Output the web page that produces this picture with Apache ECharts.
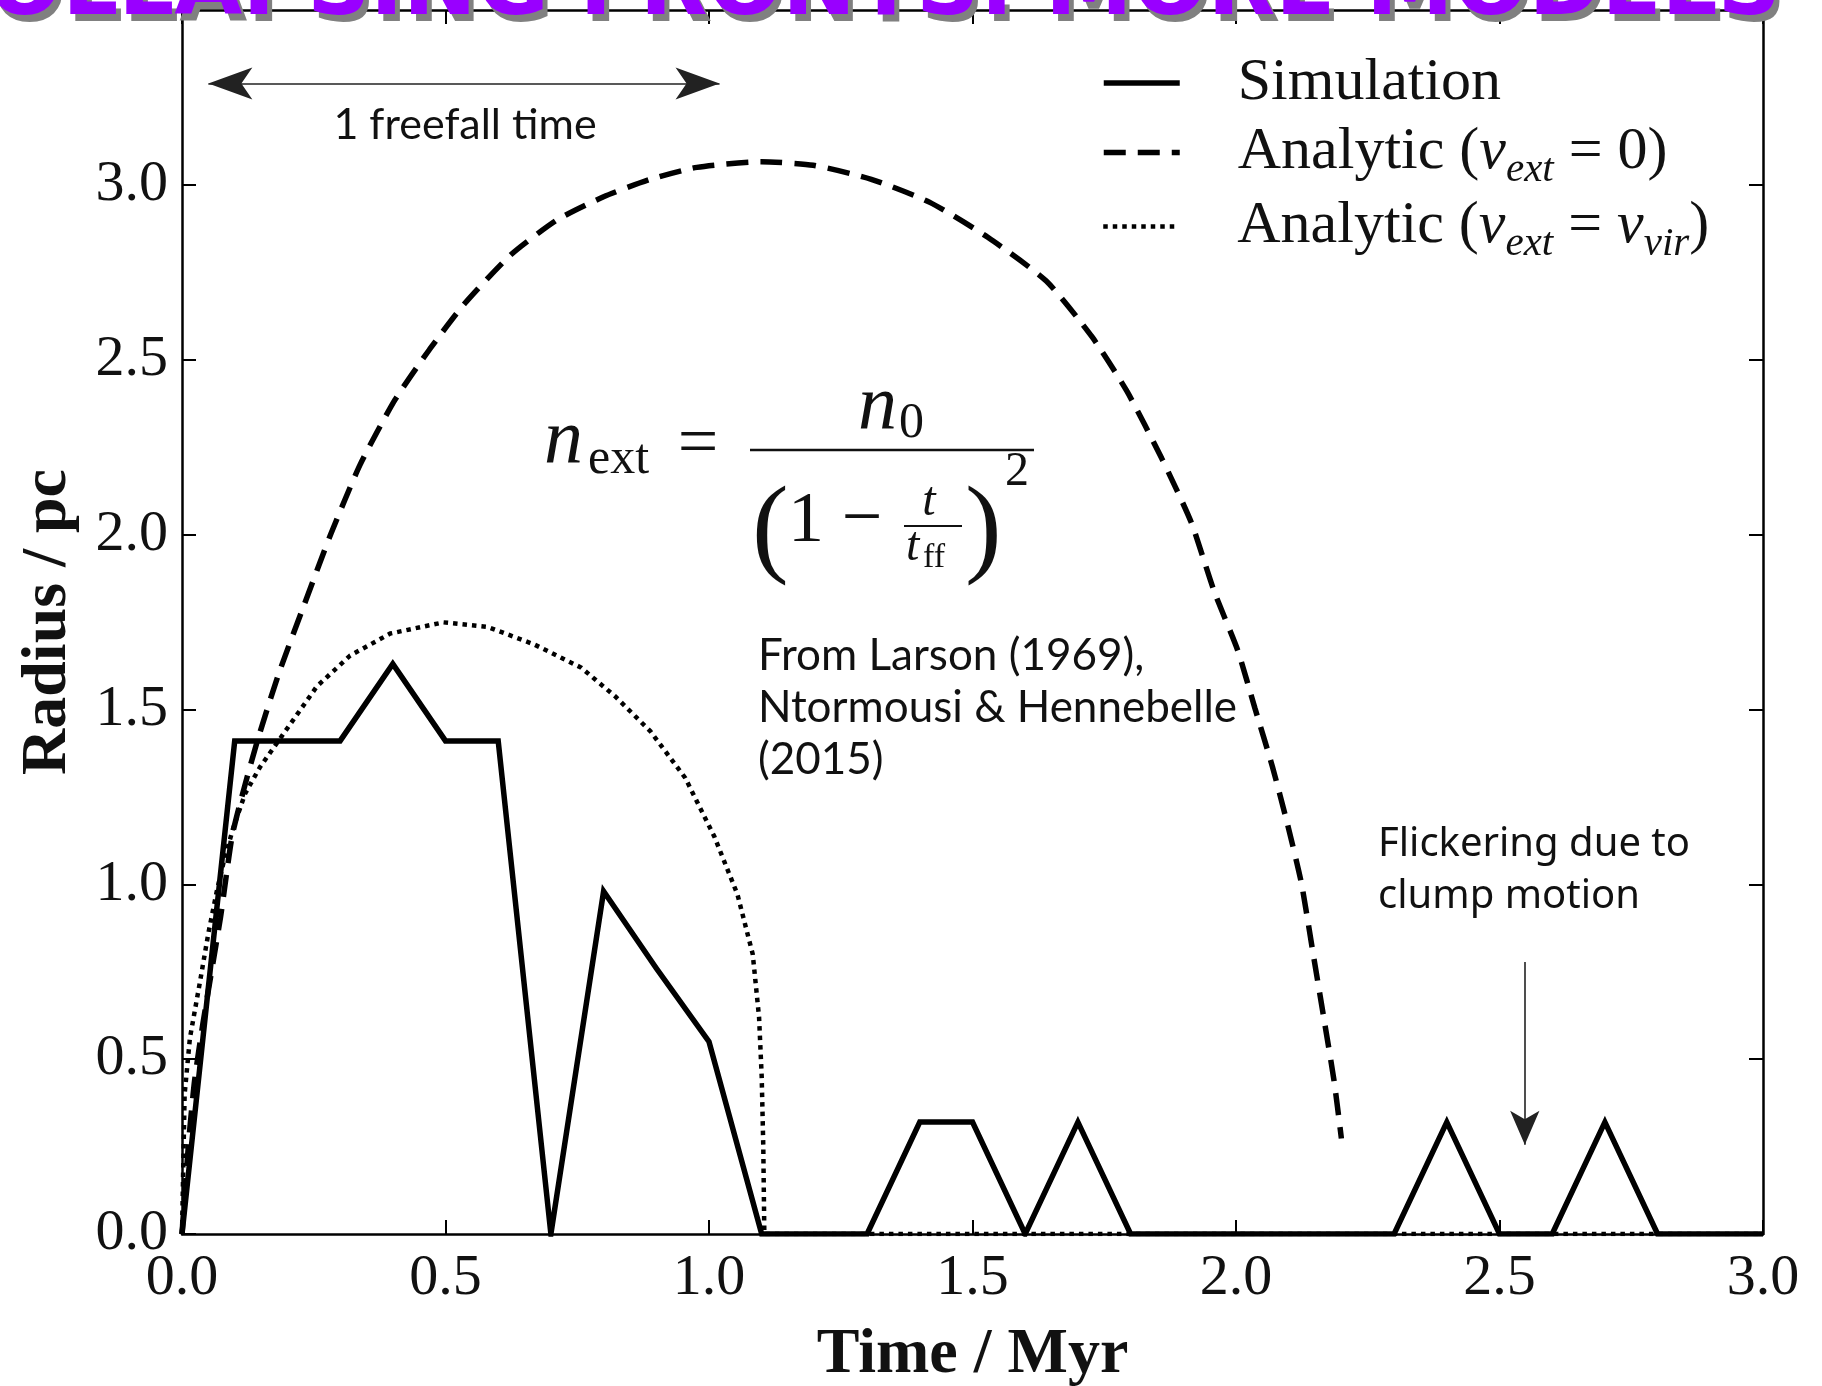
<!DOCTYPE html>
<html>
<head>
<meta charset="utf-8">
<script src="https://cdn.jsdelivr.net/npm/echarts@6/dist/echarts.min.js"></script>
<style>
  html, body { margin: 0; padding: 0; background: #ffffff; }
  #chart { width: 1822px; height: 1386px; }
</style>
</head>
<body>
<div id="chart"></div>
<script>
// Simulated front radius (pc), sampled every 0.1 Myr
const simTime   = [0, 0.1, 0.2, 0.3, 0.4, 0.5, 0.6, 0.7, 0.8, 0.9, 1.0, 1.1, 1.2, 1.3, 1.4, 1.5,
                   1.6, 1.7, 1.8, 1.9, 2.0, 2.1, 2.2, 2.3, 2.4, 2.5, 2.6, 2.7, 2.8, 2.9, 3.0];
const simRadius = [0, 1.41, 1.41, 1.41, 1.63, 1.41, 1.41, 0, 0.98, 0.76, 0.55, 0, 0, 0, 0.32, 0.32,
                   0, 0.32, 0, 0, 0, 0, 0, 0, 0.32, 0, 0, 0.32, 0, 0, 0];

// Analytic solution, static external medium (v_ext = 0)
const staticTime   = [0, 0.013, 0.024, 0.04, 0.073, 0.095, 0.117, 0.143, 0.183, 0.232, 0.282, 0.338,
                      0.404, 0.47, 0.536, 0.624, 0.712, 0.8, 0.889, 0.977, 1.099, 1.198, 1.308, 1.419,
                      1.529, 1.64, 1.727, 1.793, 1.859, 1.915, 1.959, 2.003, 2.036, 2.069, 2.098, 2.124,
                      2.146, 2.168, 2.186, 2.2];
const staticRadius = [0, 0.27, 0.44, 0.605, 0.905, 1.137, 1.27, 1.41, 1.6, 1.8, 2.0, 2.2,
                      2.385, 2.53, 2.66, 2.8, 2.9, 2.966, 3.016, 3.05, 3.066, 3.056, 3.016, 2.95,
                      2.85, 2.725, 2.565, 2.41, 2.218, 2.035, 1.836, 1.67, 1.503, 1.337, 1.17, 1.004,
                      0.805, 0.605, 0.439, 0.273];

// Analytic solution, infalling external medium (v_ext = v_vir)
const infallTime   = [0, 0.005, 0.015, 0.034, 0.05, 0.066, 0.08, 0.097, 0.12, 0.148, 0.19, 0.256,
                      0.319, 0.395, 0.496, 0.58, 0.668, 0.757, 0.823, 0.889, 0.955, 1.01, 1.054,
                      1.083, 1.095, 1.1, 1.103, 1.105, 1.5, 2.0, 2.5, 3.0];
const infallRadius = [0, 0.40, 0.56, 0.72, 0.86, 0.98, 1.07, 1.16, 1.26, 1.335, 1.425, 1.566,
                      1.654, 1.717, 1.749, 1.736, 1.686, 1.62, 1.536, 1.437, 1.304, 1.137, 0.971,
                      0.80, 0.62, 0.45, 0.25, 0, 0, 0, 0, 0];

// Annotation arrows (data coordinates)
const freefallSpan   = [0.05, 1.02];
const freefallLevel  = 3.29;
const flickerArrowT  = 2.548;
const flickerArrowR  = [0.778, 0.255];

const seriesNames = ['Simulation', 'Analytic (v_ext = 0)', 'Analytic (v_ext = v_vir)'];
const legendRich = [
  '{gap|}{rm|Simulation}',
  '{gap|}{rm|Analytic (}{it|v}{sub|ext}{rm| = 0)}',
  '{gap|}{rm|Analytic (}{it|v}{sub|ext}{rm| = }{it|v}{sub|vir}{rm|)}'
];

const SERIF = '"Liberation Serif", "DejaVu Serif", serif';
const INK = '#111111';

const DASH = [22, 12];
const DOT = [4.5, 5];

function zip(a, b) { return a.map((v, i) => [v, b[i]]); }

const rich = {
  gap: { width: 53, lineHeight: 70 },
  rm:  { fontFamily: SERIF, fontSize: 60, color: INK, lineHeight: 70 },
  it:  { fontFamily: SERIF, fontSize: 60, fontStyle: 'italic', color: INK, lineHeight: 70 },
  sub: { fontFamily: SERIF, fontSize: 41, fontStyle: 'italic', color: INK, lineHeight: 30, padding: [36, 0, 0, 0] }
};

function legendRow(i, top, lineStyle) {
  return {
    show: true, left: 1101, top: top, padding: 0,
    itemWidth: 76, itemHeight: 20, selectedMode: false,
    data: [seriesNames[i]],
    formatter: () => legendRich[i],
    itemStyle: { opacity: 0 },
    lineStyle: Object.assign({ color: '#000' }, lineStyle),
    textStyle: { rich: rich }
  };
}

function txt(x, y, text, size, o) {
  o = o || {};
  return {
    type: 'text', x: x, y: y, z: 100, silent: true,
    style: {
      text: text,
      fontFamily: o.family || SERIF,
      fontSize: size,
      fontStyle: o.italic ? 'italic' : 'normal',
      fontWeight: o.weight || 'normal',
      fill: o.fill || INK,
      align: o.align || 'left',
      verticalAlign: o.valign || 'middle',
      lineHeight: o.lineHeight
    }
  };
}

function bar(x1, x2, y, h) {
  return { type: 'rect', z: 100, silent: true,
           shape: { x: x1, y: y - h / 2, width: x2 - x1, height: h },
           style: { fill: INK } };
}

const TITLE = 'COLLAPSING FRONTS: MORE MODELS';
const TITLE_FONT = '"DejaVu Sans", "Noto Sans", sans-serif';

const graphics = [
  // section heading, partly above the page edge
  txt(1786, 42, TITLE, 88, { family: TITLE_FONT, weight: 'bold', fill: '#808080', align: 'right', valign: 'bottom' }),
  txt(1781, 35, TITLE, 88, { family: TITLE_FONT, weight: 'bold', fill: '#9900ff', align: 'right', valign: 'bottom' }),

  // free-fall annotation
  txt(465, 125, '1 freefall time', 43, { family: 'Lato, "Open Sans", sans-serif', align: 'center' }),

  // density law
  txt(544, 442, 'n', 78, { italic: true }),
  txt(588, 460, 'ext', 50),
  txt(698, 446, '=', 72, { align: 'center' }),
  bar(750, 1034, 450, 2.5),
  txt(858, 408, 'n', 78, { italic: true }),
  txt(899, 424, '0', 50),
  txt(752, 533, '(', 110),
  txt(788, 522, '1', 72),
  txt(862, 521, '\u2212', 72, { align: 'center' }),
  txt(929, 502, 't', 48, { italic: true, align: 'center' }),
  bar(904, 962, 526, 2),
  txt(906, 547, 't', 48, { italic: true }),
  txt(923, 558, 'ff', 34),
  txt(965, 533, ')', 110),
  txt(1005, 472, '2', 48),

  // references
  txt(758, 708, 'From Larson (1969),\nNtormousi & Hennebelle\n(2015)', 44,
      { family: 'Lato, "Open Sans", sans-serif', lineHeight: 52 }),

  // flicker note
  txt(1378, 871, 'Flickering due to\nclump motion', 40,
      { family: '"Noto Sans", "Open Sans", sans-serif', lineHeight: 52 })
];

function axisBase() {
  return {
    type: 'value',
    axisLine: { show: true, onZero: false, lineStyle: { color: '#000', width: 2.5 } },
    axisTick: { show: true, inside: true, length: 14, lineStyle: { color: '#000', width: 2 } },
    splitLine: { show: false }
  };
}

const chart = echarts.init(document.getElementById('chart'), null, { renderer: 'canvas' });

chart.setOption({
  animation: false,
  backgroundColor: '#ffffff',
  grid: { left: 182, right: 59, top: 10, bottom: 152, containLabel: false, outerBoundsMode: 'none' },
  xAxis: [
    Object.assign(axisBase(), {
      position: 'bottom', min: 0, max: 3, interval: 0.5,
      axisLabel: { margin: 16, fontFamily: SERIF, fontSize: 58, color: INK,
                   formatter: v => v.toFixed(1) },
      name: 'Time / Myr', nameLocation: 'middle', nameGap: 89,
      nameTextStyle: { fontFamily: SERIF, fontWeight: 'bold', fontSize: 64, color: INK }
    }),
    Object.assign(axisBase(), {
      position: 'top', min: 0, max: 3, interval: 0.5, axisLabel: { show: false }
    })
  ],
  yAxis: [
    Object.assign(axisBase(), {
      position: 'left', min: 0, max: 3.5, interval: 0.5,
      axisLabel: { margin: 14, fontFamily: SERIF, fontSize: 58, color: INK, showMaxLabel: false,
                   formatter: v => v.toFixed(1) },
      name: 'Radius / pc', nameLocation: 'middle', nameGap: 102,
      nameTextStyle: { fontFamily: SERIF, fontWeight: 'bold', fontSize: 64, color: INK }
    }),
    Object.assign(axisBase(), {
      position: 'right', min: 0, max: 3.5, interval: 0.5, axisLabel: { show: false }
    })
  ],
  legend: [
    legendRow(0, 53, { width: 5.5, type: 'solid' }),
    legendRow(1, 114, { width: 5.5, type: DASH }),
    legendRow(2, 188, { width: 4.5, type: DOT })
  ],
  graphic: graphics,
  series: [
    {
      name: seriesNames[2], type: 'line', data: zip(infallTime, infallRadius),
      symbol: 'none', z: 2,
      itemStyle: { color: '#000' },
      lineStyle: { color: '#000', width: 4.5, type: DOT, cap: 'butt' }
    },
    {
      name: seriesNames[1], type: 'line', data: zip(staticTime, staticRadius),
      symbol: 'none', smooth: 0.2, z: 3,
      itemStyle: { color: '#000' },
      lineStyle: { color: '#000', width: 5.5, type: DASH, cap: 'butt' }
    },
    {
      name: seriesNames[0], type: 'line', data: zip(simTime, simRadius),
      symbol: 'none', z: 4,
      itemStyle: { color: '#000' },
      lineStyle: { color: '#000', width: 5.5, join: 'miter' },
      markLine: {
        silent: true, animation: false,
        emphasis: { disabled: true },
        label: { show: false },
        lineStyle: { color: '#222', width: 1.6, type: 'solid' },
        symbol: ['arrow', 'arrow'], symbolSize: [24, 44],
        data: [
          [{ coord: [freefallSpan[0], freefallLevel] }, { coord: [freefallSpan[1], freefallLevel] }],
          [{ coord: [flickerArrowT, flickerArrowR[0]], symbol: 'none' },
           { coord: [flickerArrowT, flickerArrowR[1]], symbol: 'arrow', symbolSize: [22, 34] }]
        ]
      }
    }
  ]
});
</script>
</body>
</html>
